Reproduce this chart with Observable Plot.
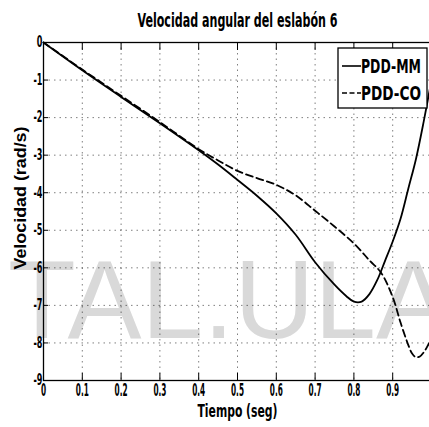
<!DOCTYPE html>
<html>
<head>
<meta charset="utf-8">
<script src="https://cdn.jsdelivr.net/npm/d3@7"></script>
<script src="https://cdn.jsdelivr.net/npm/@observablehq/plot@0.6"></script>
<style>
  html, body { margin: 0; padding: 0; background: #fff; overflow: hidden; }
  #chart svg { display: block; }
</style>
</head>
<body>
<div id="chart"></div>
<script>
// ---- data ----
const titleText = "Velocidad angular del eslabón 6";
const xLabelText = "Tiempo (seg)";
const yLabelText = "Velocidad (rad/s)";
const seriesNames = ["PDD-MM", "PDD-CO"];
const watermarkText = "TAL.ULA";

const xTicks = [0, 0.1, 0.2, 0.3, 0.4, 0.5, 0.6, 0.7, 0.8, 0.9, 1];
const xTickLabels = ["0", "0.1", "0.2", "0.3", "0.4", "0.5", "0.6", "0.7", "0.8", "0.9", "1"];
const yTicks = [0, -1, -2, -3, -4, -5, -6, -7, -8, -9];
const yTickLabels = ["0", "-1", "-2", "-3", "-4", "-5", "-6", "-7", "-8", "-9"];

const tSolid = [0, 0.1, 0.2, 0.3, 0.4, 0.45, 0.5, 0.55, 0.6, 0.65, 0.7, 0.75, 0.78, 0.8, 0.82, 0.84, 0.86, 0.88, 0.9, 0.92, 0.94, 0.96, 0.98, 1.0];
const vSolid = [0, -0.74, -1.45, -2.15, -2.87, -3.25, -3.66, -4.08, -4.55, -5.12, -5.85, -6.45, -6.75, -6.9, -6.9, -6.7, -6.33, -5.82, -5.3, -4.7, -3.9, -3.1, -2.1, -1.0];

const tDashed = [0, 0.1, 0.2, 0.3, 0.4, 0.45, 0.5, 0.55, 0.6, 0.65, 0.7, 0.75, 0.8, 0.84, 0.87, 0.9, 0.92, 0.94, 0.95, 0.96, 0.97, 0.98, 0.99, 1.0];
const vDashed = [0, -0.72, -1.42, -2.12, -2.84, -3.14, -3.42, -3.61, -3.79, -4.07, -4.48, -4.9, -5.35, -5.8, -6.13, -6.78, -7.45, -8.05, -8.28, -8.38, -8.36, -8.25, -8.08, -7.85];

// ---- build ----
const solid = tSolid.map((t, i) => ({t, v: vSolid[i]}));
const dashed = tDashed.map((t, i) => ({t, v: vDashed[i]}));
const NARROW = "'Liberation Sans Narrow', 'Arial Narrow', 'DejaVu Sans Condensed', 'DejaVu Sans', sans-serif";
const WIDE = "'Liberation Sans', Arial, sans-serif";
const xFmt = new Map(xTicks.map((d, i) => [d, xTickLabels[i]]));
const yFmt = new Map(yTicks.map((d, i) => [d, yTickLabels[i]]));

const chart = Plot.plot({
  width: 429,
  height: 427,
  marginTop: 42,
  marginBottom: 47,
  marginLeft: 43,
  marginRight: -2,
  style: {fontFamily: NARROW, fontWeight: "bold", fontSize: "14px", color: "#000", background: "#fff", overflow: "visible"},
  x: {domain: [0, 1]},
  y: {domain: [-9, 0]},
  marks: [
    Plot.gridX(xTicks, {stroke: "#000", strokeOpacity: 0.5, strokeDasharray: "1.5,4"}),
    Plot.gridY(yTicks, {stroke: "#000", strokeOpacity: 0.5, strokeDasharray: "1.5,4"}),
    Plot.line(solid, {x: "t", y: "v", curve: "catmull-rom", stroke: "#000", strokeWidth: 1.8}),
    Plot.line(dashed, {x: "t", y: "v", curve: "catmull-rom", stroke: "#000", strokeWidth: 1.8, strokeDasharray: "7,4"}),
    Plot.axisX(xTicks, {anchor: "bottom", tickSize: -7, tickPadding: 10, tickFormat: d => xFmt.get(d), label: null, fontSize: 17, className: "sq-tick"}),
    Plot.axisX(xTicks, {anchor: "top", tickSize: -7, tickFormat: () => "", label: null}),
    Plot.axisY(yTicks, {anchor: "left", tickSize: -5, tickPadding: 6, tickFormat: d => yFmt.get(d), label: null, fontSize: 15, className: "sq-ytick"}),
    Plot.frame({stroke: "#000", strokeWidth: 1.3}),
    Plot.text([titleText], {frameAnchor: "top", dy: -29, fontSize: 19, fontWeight: "bold", className: "sq-title"}),
    Plot.text([xLabelText], {frameAnchor: "bottom", dy: 36, fontSize: 17, fontWeight: "bold", className: "sq-xlabel"})
  ]
});

const svg = d3.select(chart);

// watermark behind everything
svg.insert("text", ":first-child")
  .attr("x", 8).attr("y", 338)
  .attr("text-anchor", "start")
  .attr("font-family", WIDE)
  .attr("font-size", 111)
  .attr("font-weight", "normal")
  .attr("fill", "#d9d9d9")
  .text(watermarkText);

// y-axis title (rotated)
svg.append("text")
  .attr("class", "sq-ylabel")
  .attr("transform", "translate(26,198) rotate(-90)")
  .attr("text-anchor", "middle")
  .attr("font-family", WIDE).attr("font-weight", "bold").attr("font-size", 16)
  .attr("fill", "#000")
  .text(yLabelText);

// legend box
const lg = svg.append("g").attr("class", "legend");
lg.append("rect").attr("x", 338).attr("y", 48).attr("width", 89).attr("height", 60)
  .attr("fill", "#fff").attr("stroke", "#000").attr("stroke-width", 1.3);
const entries = [{name: seriesNames[0], dash: null, y: 66}, {name: seriesNames[1], dash: "5,2.5", y: 93}];
for (const e of entries) {
  lg.append("line").attr("x1", 342).attr("x2", 361).attr("y1", e.y).attr("y2", e.y)
    .attr("stroke", "#000").attr("stroke-width", 1.6).attr("stroke-dasharray", e.dash);
  lg.append("text").attr("class", "sq-legend").attr("x", 361).attr("y", e.y + 7)
    .attr("text-anchor", "start")
    .attr("font-family", NARROW).attr("font-weight", "bold").attr("font-size", 20)
    .attr("fill", "#000").text(e.name);
}

document.getElementById("chart").appendChild(chart);

// condense texts to the reference widths (the scanned font is very narrow)
function squeeze(selector, fn) {
  svg.selectAll(selector).each(function () {
    const w = this.getComputedTextLength();
    if (!w) return;
    this.setAttribute("textLength", fn(w, this.textContent));
    this.setAttribute("lengthAdjust", "spacingAndGlyphs");
  });
}
squeeze(".sq-title text", () => 200);
squeeze(".sq-xlabel text", () => 80);
squeeze("text.sq-ylabel", () => 143);
squeeze(".sq-tick text", (w) => w * 0.48);
squeeze(".sq-ytick text", (w) => w * 0.6);
squeeze("text.sq-legend", () => 60);
</script>
</body>
</html>
